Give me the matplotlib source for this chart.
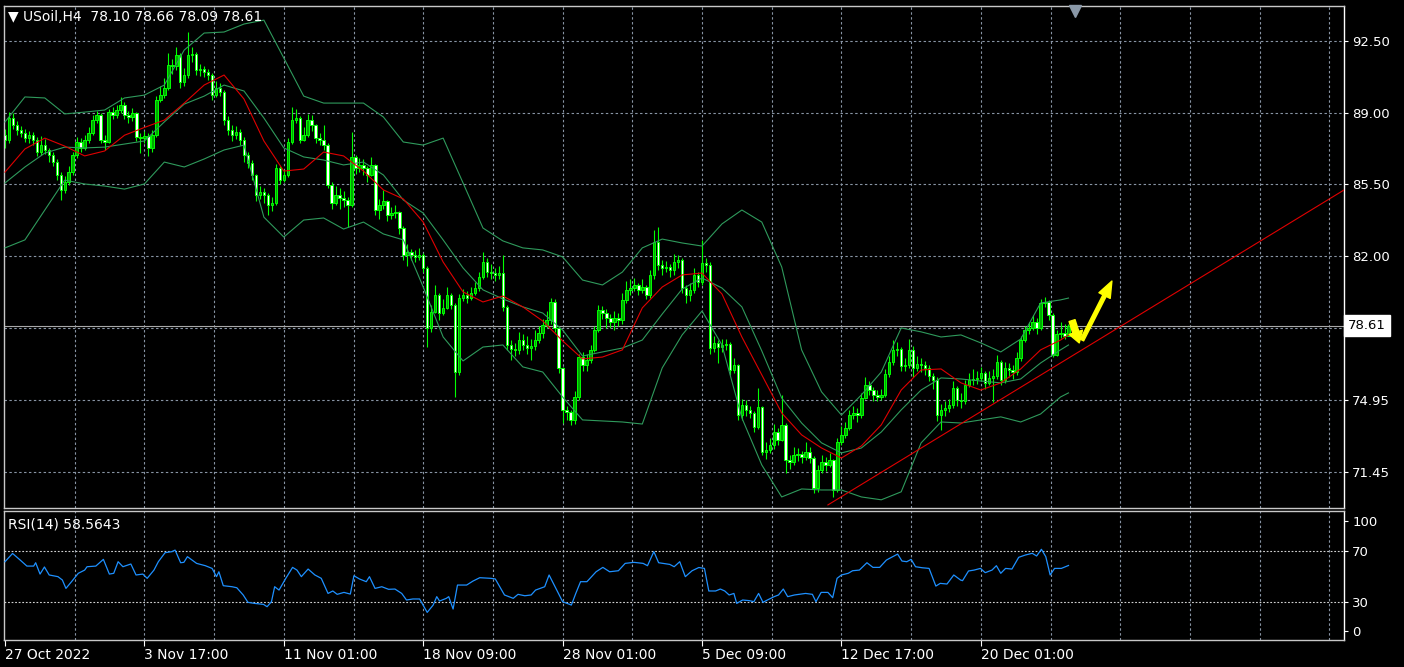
import numpy as np
import matplotlib.pyplot as plt
from matplotlib.patches import FancyArrowPatch
from matplotlib.transforms import blended_transform_factory

# H4 candles (bar index 0..267)
first_open = 87.90
closes = [
    87.67, 88.74, 88.40, 88.15, 88.01, 87.76, 87.91, 87.67, 87.08, 87.42,
    87.18, 86.93, 86.59, 85.96, 85.23, 85.62, 86.10, 86.93, 87.57, 87.28,
    87.67, 88.01, 88.64, 88.89, 87.67, 87.57, 89.03, 88.89, 89.13, 89.37,
    88.89, 88.79, 88.98, 87.81, 87.76, 87.86, 87.28, 87.91, 89.62, 89.86,
    90.20, 91.33, 91.28, 91.82, 90.50, 90.84, 91.82, 91.86, 91.08, 91.13,
    90.99, 90.84, 89.86, 90.20, 90.01, 88.64, 88.15, 87.91, 88.06, 87.67,
    86.93, 86.54, 85.96, 84.98, 85.13, 84.98, 84.49, 84.59, 86.30, 85.71,
    85.96, 87.57, 88.64, 88.74, 87.67, 87.91, 88.64, 88.40, 87.76, 87.67,
    87.42, 85.47, 84.59, 84.98, 84.84, 84.74, 84.49, 86.84, 86.30, 86.45,
    86.30, 85.96, 86.45, 84.25, 84.49, 84.69, 84.01, 84.10, 84.15, 83.37,
    82.05, 82.20, 82.05, 81.96, 82.05, 81.42, 78.49, 79.27, 80.10, 79.22,
    79.47, 80.10, 79.61, 76.34, 79.95, 80.10, 79.95, 80.20, 80.44, 80.98,
    81.71, 81.22, 81.17, 81.08, 81.17, 79.52, 77.66, 77.47, 77.42, 77.90,
    77.66, 77.51, 77.61, 77.90, 78.25, 78.64, 78.88, 79.76, 78.49, 76.54,
    74.49, 74.39, 74.00, 75.12, 77.07, 76.68, 76.93, 77.42, 78.39, 79.37,
    79.22, 78.98, 78.78, 78.98, 78.88, 79.86, 80.35, 80.44, 80.59, 80.35,
    80.49, 80.10, 81.08, 82.69, 81.57, 81.42, 81.47, 81.32, 81.71, 81.80,
    80.44, 80.10, 80.35, 81.08, 80.74, 81.66, 81.57, 77.51, 77.76, 77.56,
    77.66, 77.70, 76.44, 76.68, 74.24, 74.73, 74.49, 74.34, 73.66, 74.63,
    72.44, 72.54, 72.78, 73.41, 73.02, 73.76, 72.05, 71.95, 72.29, 72.34,
    72.19, 72.44, 72.14, 70.68, 71.56, 71.95, 71.80, 72.05, 70.58, 72.93,
    73.27, 73.61, 74.24, 74.34, 74.24, 75.07, 75.71, 75.46, 75.22, 75.12,
    75.22, 76.25, 76.83, 77.42, 77.47, 76.64, 76.70, 77.42, 76.54, 76.73,
    76.68, 76.54, 76.15, 75.95, 74.24, 74.49, 74.59, 74.73, 75.56, 74.98,
    74.93, 75.71, 75.95, 76.00, 76.05, 76.29, 75.81, 76.05, 76.15, 76.83,
    75.95, 76.54, 76.44, 76.34, 77.03, 77.90, 78.39, 78.49, 78.78, 78.49,
    79.71, 79.76, 79.12, 77.17, 78.20, 78.25, 78.10, 78.61,
]
highs = [
    88.20, 89.05, 89.00, 88.60, 88.35, 88.20, 88.10, 88.05, 87.80, 87.85,
    87.70, 87.30, 87.10, 86.75, 86.10, 85.90, 86.40, 87.10, 87.80, 87.75,
    87.90, 88.30, 88.90, 89.10, 89.00, 87.90, 89.20, 89.30, 89.40, 89.77,
    89.50, 89.10, 89.25, 89.05, 88.00, 88.10, 88.00, 88.15, 89.80, 90.30,
    90.70, 91.90, 91.60, 92.20, 91.90, 91.20, 92.94, 92.20, 91.95, 91.40,
    91.30, 91.15, 90.95, 90.55, 90.45, 90.10, 88.85, 88.40, 88.35, 88.20,
    87.80, 87.10, 86.70, 86.00, 85.40, 85.30, 85.10, 84.90, 86.50, 86.40,
    86.20, 87.75, 89.28, 89.20, 88.85, 88.30, 88.95, 88.90, 88.45, 88.00,
    88.40, 87.50, 85.60, 85.40, 85.30, 85.20, 84.90, 88.06, 86.95, 86.80,
    86.75, 86.40, 86.84, 86.50, 84.80, 85.23, 84.75, 84.40, 84.50, 84.20,
    83.45, 82.60, 82.35, 82.30, 82.40, 82.15, 81.50, 79.60, 80.60, 80.20,
    79.90, 80.50, 80.20, 79.70, 80.15, 80.40, 80.30, 80.50, 80.75, 81.20,
    82.20, 81.90, 81.60, 81.40, 81.50, 82.05, 79.60, 77.90, 77.75, 78.30,
    78.20, 78.10, 77.95, 78.40, 78.60, 78.95, 79.30, 79.95, 79.90, 78.60,
    76.60, 74.70, 74.50, 75.40, 77.20, 77.30, 77.20, 77.65, 78.60, 79.60,
    79.55, 79.40, 79.15, 79.30, 79.20, 80.20, 80.80, 80.90, 80.95, 80.70,
    80.90, 80.60, 81.30, 83.27, 83.42, 81.80, 81.75, 81.60, 82.10, 82.05,
    81.90, 80.60, 80.70, 81.40, 81.20, 82.79, 81.90, 81.70, 78.10, 77.90,
    77.95, 77.95, 77.80, 77.00, 76.75, 75.00, 74.95, 74.70, 74.45, 75.56,
    74.70, 72.90, 73.10, 73.80, 73.60, 75.22, 73.85, 72.30, 72.70, 72.65,
    72.50, 72.90, 72.70, 72.25, 71.80, 72.30, 72.20, 72.40, 72.10, 73.10,
    73.70, 73.90, 74.50, 74.70, 74.60, 75.30, 76.10, 75.90, 75.60, 75.45,
    75.50, 76.50, 77.10, 77.90, 77.80, 77.55, 77.00, 77.95, 77.60, 77.10,
    77.00, 76.90, 76.70, 76.30, 76.10, 74.80, 74.90, 75.00, 75.90, 75.65,
    75.30, 75.95, 76.30, 76.50, 76.40, 76.60, 76.40, 76.40, 76.50, 77.17,
    76.95, 76.85, 76.80, 76.70, 77.30, 78.10, 78.60, 78.80, 79.10, 79.00,
    79.90, 80.00, 79.85, 79.20, 78.40, 78.78, 78.70, 78.66,
]
lows = [
    87.30, 87.50, 88.20, 87.90, 87.80, 87.55, 87.50, 87.40, 86.90, 86.95,
    87.00, 86.60, 86.40, 85.70, 84.74, 85.10, 85.45, 85.95, 86.80, 87.10,
    87.20, 87.50, 87.90, 88.50, 87.50, 87.20, 87.50, 88.70, 88.75, 89.00,
    88.70, 88.50, 88.60, 87.60, 87.03, 87.50, 86.90, 87.10, 87.80, 89.50,
    89.70, 90.10, 90.90, 91.10, 90.20, 90.30, 90.70, 91.50, 90.85, 90.80,
    90.75, 90.60, 89.60, 89.75, 89.80, 88.40, 87.90, 87.60, 87.70, 87.40,
    86.60, 86.30, 85.70, 84.70, 84.80, 84.60, 84.00, 84.20, 84.50, 85.50,
    85.60, 85.85, 87.45, 88.50, 87.50, 87.60, 87.80, 88.10, 87.50, 87.40,
    87.20, 85.30, 84.30, 84.50, 84.30, 84.40, 83.42, 84.40, 86.00, 86.10,
    85.95, 85.60, 85.90, 84.00, 83.80, 84.30, 83.70, 83.80, 83.85, 83.10,
    81.80, 81.50, 81.80, 81.70, 81.80, 81.20, 77.56, 78.30, 79.20, 78.90,
    79.10, 79.40, 79.40, 75.12, 76.20, 79.80, 79.70, 79.85, 80.10, 80.30,
    80.90, 81.00, 80.90, 80.80, 80.90, 79.30, 77.40, 76.93, 77.10, 77.20,
    77.40, 77.20, 76.95, 77.40, 77.75, 78.00, 78.50, 78.70, 78.30, 76.30,
    73.85, 74.00, 73.75, 73.80, 74.95, 76.40, 76.40, 76.80, 77.30, 78.30,
    78.95, 78.50, 78.50, 78.40, 78.60, 78.70, 79.70, 80.10, 80.30, 80.10,
    80.20, 79.90, 79.95, 80.90, 81.30, 81.10, 81.20, 81.00, 81.10, 81.40,
    80.20, 79.70, 79.80, 80.20, 80.50, 80.60, 81.20, 77.20, 77.30, 76.78,
    77.30, 77.40, 76.20, 76.30, 74.00, 74.00, 74.20, 74.10, 73.40, 73.55,
    72.30, 72.10, 72.40, 72.60, 72.80, 72.95, 71.40, 71.60, 71.80, 72.00,
    71.90, 72.05, 71.90, 70.45, 70.50, 71.40, 71.50, 71.70, 70.24, 70.50,
    72.80, 73.10, 73.50, 74.05, 73.90, 74.10, 75.00, 75.20, 74.90, 74.90,
    74.95, 75.10, 76.10, 76.70, 77.10, 76.40, 76.40, 76.55, 76.10, 76.40,
    76.35, 76.20, 75.90, 75.50, 73.95, 73.51, 74.20, 74.40, 74.60, 74.70,
    74.60, 74.80, 75.60, 75.70, 75.75, 75.90, 75.50, 75.70, 74.88, 76.00,
    75.70, 75.80, 76.10, 76.00, 76.20, 76.90, 77.80, 78.20, 78.40, 78.20,
    78.40, 79.50, 78.90, 77.07, 77.10, 78.00, 77.95, 78.09,
]

# Bollinger bands and red moving average, read every 5 bars
band_bars = list(range(0, 266, 5)) + [267]
bb_upper = [
    88.55, 89.77, 89.72, 88.94, 89.03, 89.13, 89.72, 89.86, 90.35, 92.06,
    92.89, 92.94, 93.33, 93.52, 91.67, 89.81, 89.47, 89.47, 89.47, 88.79,
    87.57, 87.42, 87.76, 85.57, 83.37, 82.74, 82.40, 82.30, 81.96, 80.83,
    80.59, 81.22, 82.40, 82.83, 82.64, 82.49, 83.57, 84.25, 83.66, 81.47,
    77.42, 75.37, 74.24, 75.22, 76.34, 78.49, 78.30, 78.05, 78.15, 77.76,
    77.32, 77.95, 79.71, 79.86, 79.95,
]
bb_middle = [
    85.57, 86.35, 87.03, 87.32, 87.28, 87.32, 87.47, 87.62, 88.55, 89.42,
    89.81, 90.35, 90.06, 88.74, 87.28, 86.84, 86.69, 86.45, 86.59, 85.96,
    84.74, 84.10, 82.79, 81.42, 80.35, 79.91, 79.52, 79.22, 78.39, 77.12,
    77.32, 77.51, 77.90, 79.17, 80.39, 80.93, 80.44, 79.52, 77.37, 75.07,
    73.85, 72.88, 72.39, 72.63, 73.41, 74.49, 75.46, 76.05, 76.00, 75.90,
    75.81, 76.00, 76.78, 77.42, 77.66,
]
bb_lower = [
    82.40, 82.79, 84.25, 85.71, 85.52, 85.42, 85.27, 85.52, 86.59, 86.35,
    86.74, 87.18, 87.42, 83.90, 82.93, 83.76, 83.86, 83.32, 83.66, 83.08,
    82.79, 80.49, 78.05, 76.88, 77.56, 77.66, 76.59, 76.34, 75.12, 74.00,
    73.95, 73.90, 73.80, 76.54, 78.15, 79.32, 77.66, 74.10, 71.80, 70.24,
    70.63, 70.58, 70.58, 70.24, 70.10, 70.49, 72.88, 73.90, 73.85, 74.00,
    74.15, 73.90, 74.29, 75.12, 75.32,
]
ma_red = [
    86.10, 87.23, 87.76, 87.37, 86.89, 87.13, 87.90, 88.28, 88.64, 89.47,
    90.35, 90.84, 89.67, 87.62, 86.15, 86.25, 87.08, 86.89, 86.15, 85.23,
    84.79, 83.66, 81.71, 80.25, 79.76, 80.05, 79.52, 78.83, 77.86, 76.98,
    77.07, 77.42, 79.47, 80.49, 81.08, 81.17, 80.15, 78.05, 76.20, 74.34,
    73.27, 72.63, 72.14, 72.73, 73.76, 75.46, 76.44, 76.49, 75.81, 75.46,
    75.81, 76.49, 77.42, 77.90, 78.15,
]

# RSI(14) vertices (bar, value)
rsi_bars = [
    0, 1.9, 3.8, 5.5, 7.2, 7.7, 8.8, 9.9, 11.1, 13.3,
    14.4, 15.3, 16.7, 18.4, 20.0, 20.6, 22.8, 24.7, 26.2, 27.3,
    28.4, 29.6, 31.6, 32.9, 34.6, 35.7, 37.4, 38.5, 40.2, 41.9,
    42.7, 44.1, 44.9, 45.8, 48.1, 50.3, 52.0, 53.1, 53.7, 54.8,
    57.0, 58.2, 59.8, 61.0, 62.6, 64.9, 65.8, 66.9, 67.7, 68.8,
    70.5, 72.2, 73.3, 74.4, 76.1, 77.8, 79.4, 81.1, 82.3, 83.4,
    85.1, 86.7, 87.6, 89.0, 90.7, 91.5, 92.9, 94.6, 96.3, 97.9,
    99.6, 100.8, 102.4, 104.1, 106.0, 107.5, 108.4, 109.1, 110.8, 111.4,
    112.5, 113.6, 115.9, 117.5, 119.2, 122.0, 123.1, 125.4, 127.6, 128.8,
    130.5, 132.1, 133.2, 135.5, 136.6, 138.3, 140.0, 142.2, 143.3, 144.5,
    146.1, 148.4, 150.1, 151.8, 154.0, 155.7, 157.9, 160.2, 161.3, 162.9,
    164.1, 166.9, 168.0, 169.4, 170.8, 172.5, 174.2, 175.6, 176.7, 178.4,
    179.6, 180.7, 181.8, 183.0, 183.7, 185.2, 186.9, 188.0, 189.2, 190.3,
    191.4, 193.1, 194.2, 195.4, 196.5, 198.2, 201.0, 202.7, 203.6, 204.9,
    206.6, 207.8, 208.9, 210.0, 211.7, 212.8, 214.5, 216.4, 217.9, 219.6,
    221.3, 222.4, 224.1, 225.2, 226.4, 227.5, 228.6, 230.3, 232.0, 233.7,
    234.8, 236.5, 238.2, 239.9, 240.4, 241.9, 243.3, 244.9, 246.1, 247.8,
    248.9, 250.0, 251.2, 252.8, 254.5, 256.2, 257.9, 259.0, 260.2, 261.3,
    262.4, 263.5, 265.2, 267.0,
]
rsi_values = [
    61.5, 67.9, 62.8, 58.1, 58.1, 60.7, 51.9, 57.4, 51.2, 49.9,
    47.3, 40.8, 46.0, 52.5, 55.0, 57.6, 58.1, 63.3, 51.9, 52.5,
    61.5, 57.6, 59.7, 51.2, 51.9, 48.6, 55.0, 61.5, 68.5, 69.3,
    70.5, 60.7, 61.0, 65.4, 60.2, 58.4, 56.3, 49.9, 53.7, 42.9,
    42.1, 41.3, 35.7, 30.0, 29.2, 28.4, 26.6, 30.5, 42.1, 39.5,
    48.6, 57.1, 55.0, 49.9, 55.8, 51.2, 48.6, 36.9, 38.8, 36.2,
    37.7, 36.4, 50.6, 48.1, 46.0, 49.9, 40.8, 42.1, 40.1, 40.3,
    36.9, 31.8, 32.6, 32.6, 22.2, 27.9, 34.4, 31.0, 33.1, 34.4,
    24.8, 43.4, 43.4, 46.5, 49.1, 48.6, 48.1, 35.7, 33.1, 36.2,
    35.1, 35.7, 39.5, 42.1, 51.2, 40.8, 30.5, 27.9, 36.9, 46.0,
    46.0, 53.7, 57.1, 53.7, 54.5, 60.2, 61.0, 60.2, 58.4, 69.3,
    60.7, 59.4, 57.6, 61.5, 49.9, 54.5, 57.0, 56.3, 38.8, 38.8,
    40.3, 38.8, 35.7, 36.9, 29.2, 31.8, 31.3, 30.5, 36.9, 30.0,
    31.8, 34.4, 35.7, 40.3, 34.4, 35.7, 36.9, 36.2, 30.5, 37.7,
    37.7, 33.6, 48.6, 51.2, 52.5, 54.5, 55.0, 60.7, 57.1, 57.1,
    62.8, 64.6, 67.4, 62.0, 61.5, 63.3, 57.6, 56.8, 56.3, 42.6,
    44.7, 44.2, 51.2, 47.3, 46.8, 54.3, 55.0, 56.3, 53.0, 55.0,
    58.4, 52.5, 56.3, 55.8, 64.9, 66.7, 68.0, 65.9, 71.1, 65.4,
    51.2, 56.3, 56.3, 58.56,
]

# drawn objects
trend_bars = [206.6, 336.2]
trend_prices = [69.85, 85.23]
arrow_down = [(267.9, 78.85), (269.7, 77.76)]
arrow_up = [(270.4, 77.90), (277.9, 80.78)]
last_price = 78.61

price_ticks = [92.50, 89.00, 85.50, 82.00, 78.50, 74.95, 71.45]
price_labels = ['92.50', '89.00', '85.50', '82.00', '', '74.95', '71.45']
rsi_levels = [70, 30]
rsi_ticks = [93, 70, 30, 7.5]
rsi_labels = ['100', '70', '30', '0']
time_bars = [0, 35, 70, 105, 140, 175, 210, 245]
time_labels = ['27 Oct 2022', '3 Nov 17:00', '11 Nov 01:00', '18 Nov 09:00',
               '28 Nov 01:00', '5 Dec 09:00', '12 Dec 17:00', '20 Dec 01:00']
header = '\u25bc USoil,H4  78.10 78.66 78.09 78.61'
rsi_title = 'RSI(14) 58.5643'

W, H = 1404, 667
GRID = '#8894a4'
plt.rcParams['font.family'] = ['DejaVu Sans']

fig = plt.figure(figsize=(W / 100, H / 100), dpi=100, facecolor='black')
ax = fig.add_axes([4 / W, 1 - 508 / H, 1340 / W, 502 / H], facecolor='black')
ax2 = fig.add_axes([4 / W, 1 - 640 / H, 1340 / W, 129 / H], facecolor='black', sharex=ax)

xmax = 336.17
ax.set_xlim(-0.25, xmax)
ax.set_ylim(69.70, 94.21)
ax2.set_ylim(0.8, 100.8)

# grid
for a in (ax, ax2):
    for gx in np.arange(17.5, xmax, 17.5):
        a.axvline(gx, color=GRID, lw=0.8, dashes=(2.2, 2.2), zorder=0)
for gy in price_ticks:
    ax.axhline(gy, color=GRID, lw=0.8, dashes=(2.2, 2.2), zorder=0)
for lv in rsi_levels:
    ax2.axhline(lv, color='#d0d0d0', lw=0.8, dashes=(1.6, 1.6), zorder=0)

# candles
idx = np.arange(len(closes))
c = np.array(closes)
o = np.array([first_open] + closes[:-1])
up = c >= o
body_lo = np.minimum(o, c)
body_h = np.maximum(np.abs(c - o), 0.03)
ax.vlines(idx, lows, highs, color='#00ff00', lw=0.8, zorder=2)
ax.bar(idx[up], body_h[up], bottom=body_lo[up], width=0.62,
       color='#00a800', edgecolor='#00ff00', linewidth=0.7, zorder=2)
ax.bar(idx[~up], body_h[~up], bottom=body_lo[~up], width=0.62,
       color='white', edgecolor='#00ff00', linewidth=0.7, zorder=2)

# indicators
band_col = '#2f9a5c'
ax.plot(band_bars, bb_upper, color=band_col, lw=0.8, zorder=3)
ax.plot(band_bars, bb_middle, color=band_col, lw=0.8, zorder=3)
ax.plot(band_bars, bb_lower, color=band_col, lw=0.8, zorder=3)
ax.plot(band_bars, ma_red, color='#e00000', lw=0.8, zorder=3)
ax.plot(trend_bars, trend_prices, color='#e00000', lw=0.8, zorder=3)
ax.axhline(last_price, color='#a8a8a8', lw=0.8, zorder=1)

ax.add_patch(FancyArrowPatch(arrow_down[0], arrow_down[1], shrinkA=0, shrinkB=0,
                             arrowstyle='simple,head_width=1.0,head_length=0.8,tail_width=0.45',
                             mutation_scale=10, color='#ffff00', zorder=4))
ax.add_patch(FancyArrowPatch(arrow_up[0], arrow_up[1], shrinkA=0, shrinkB=0,
                             arrowstyle='simple,head_width=0.7,head_length=0.9,tail_width=0.2',
                             mutation_scale=13, color='#ffff00', zorder=4))

# shift marker
ax.plot([0.7993], [0.99], marker='v', ms=8, color='#8a98a8', transform=ax.transAxes,
        clip_on=False, zorder=5)

ax2.plot(rsi_bars, rsi_values, color='#1e90ff', lw=0.9, zorder=3)

# axes styling
for a in (ax, ax2):
    for s in a.spines.values():
        s.set_color('#c8c8c8')
        s.set_linewidth(1)
    a.spines['right'].set_color('white')
    a.yaxis.tick_right()
    a.tick_params(axis='y', colors='white', labelcolor='white', labelsize=9.5,
                  length=3, width=0.8, pad=3)

ax.set_yticks(price_ticks)
ax.set_yticklabels(price_labels)
ax.tick_params(axis='x', bottom=False, labelbottom=False)

ax2.set_yticks(rsi_ticks)
ax2.set_yticklabels(rsi_labels)
ax2.set_xticks(time_bars)
ax2.set_xticklabels(time_labels, ha='left')
ax2.tick_params(axis='x', colors='white', labelcolor='white', labelsize=10,
                length=4, width=0.8, pad=2)

trans = blended_transform_factory(ax.transAxes, ax.transData)
ax.text(1.0 + 4 / 1340, last_price, f'{last_price:.2f}', transform=trans, ha='left',
        va='center', fontsize=9.5, color='black', clip_on=False, zorder=6,
        bbox=dict(boxstyle='square,pad=0.3', facecolor='white', edgecolor='white'))

fig.text(8 / W, 1 - 17 / H, header, color='white', fontsize=10, ha='left', va='center')
fig.text(8 / W, 1 - 525 / H, rsi_title, color='white', fontsize=10, ha='left', va='center')

fig.savefig('out.png', dpi=100, facecolor='black')
